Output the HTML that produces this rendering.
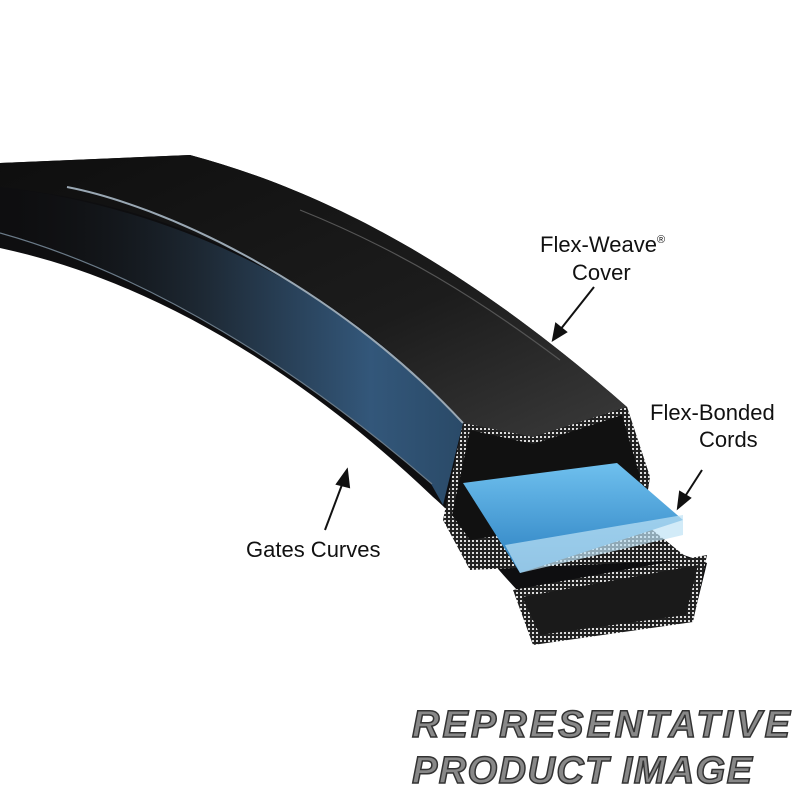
<!DOCTYPE html>
<html><head><style>
html,body{margin:0;padding:0;background:#fff;width:800px;height:800px;overflow:hidden}
</style></head><body>
<svg width="800" height="800" viewBox="0 0 800 800" xmlns="http://www.w3.org/2000/svg">
<defs>
<linearGradient id="side" x1="0" y1="0" x2="1" y2="0">
<stop offset="0" stop-color="#111" stop-opacity="0"/><stop offset="0.45" stop-color="#1e2a36"/><stop offset="0.8" stop-color="#33577a"/><stop offset="1" stop-color="#2a4a68"/>
</linearGradient>
<linearGradient id="top" x1="0" y1="0" x2="1" y2="1">
<stop offset="0" stop-color="#0e0e0e"/><stop offset="0.6" stop-color="#1c1c1c"/><stop offset="1" stop-color="#3a3a3a"/>
</linearGradient>
<linearGradient id="cord" x1="0" y1="0" x2="0" y2="1">
<stop offset="0" stop-color="#6fc0ee"/><stop offset="1" stop-color="#2a7fc0"/>
</linearGradient>
<pattern id="dots" width="4" height="4" patternUnits="userSpaceOnUse"><rect width="4" height="4" fill="#222"/><rect width="2" height="2" fill="#ddd"/></pattern>
</defs>
<!-- belt body -->
<path d="M0,163 L190,155 C320,190 460,260 627,407 L650,477 L640,540 L707,563 L693,620 L533,643 L517,590 C480,550 460,520 433,497 C300,370 150,280 0,248 Z" fill="#0e0e10"/>
<!-- top face -->
<path d="M0,163 L190,155 C320,190 460,260 627,407 L533,437 L463,423 C380,330 230,210 0,187 Z" fill="url(#top)"/>
<!-- side face -->
<path d="M0,187 C230,215 380,330 463,423 L443,505 L430,482 C300,370 150,275 0,233 Z" fill="url(#side)"/>
<path d="M67,187 C160,205 330,280 463,423" stroke="#9aa8b4" stroke-width="2" fill="none"/>
<path d="M0,233 C150,275 300,370 432,484" stroke="#6a7a88" stroke-width="1.2" fill="none"/>
<path d="M300,210 C400,250 480,300 560,360" stroke="#555" stroke-width="1.2" fill="none"/>
<!-- upper section -->
<path d="M463,423 L533,437 L627,407 L650,477 L640,520 L690,560 L470,570 L443,520 Z" fill="url(#dots)"/>
<path d="M470,430 L533,444 L622,415 L640,476 L632,515 L470,540 L452,515 Z" fill="#111"/>
<!-- cords -->
<path d="M463,483 L617,463 L683,520 L520,573 Z" fill="url(#cord)"/>
<path d="M505,545 L683,515 L683,535 L520,573 Z" fill="#bfe3f5" opacity="0.7"/>
<!-- lower section -->
<path d="M513,590 L707,555 L693,622 L533,645 Z" fill="url(#dots)"/>
<path d="M522,597 L698,565 L686,615 L540,635 Z" fill="#1a1a1a"/>
<g font-family="'Liberation Sans',sans-serif" font-size="22" fill="#111">
<text x="540" y="252">Flex-Weave<tspan font-size="11" dy="-9">®</tspan></text>
<text x="572" y="280">Cover</text>
<text x="650" y="420">Flex-Bonded</text>
<text x="699" y="447">Cords</text>
<text x="246" y="557">Gates Curves</text>
</g>
<g stroke="#111" stroke-width="2" fill="#111">
<line x1="594" y1="287" x2="560" y2="330"/><polygon points="553,340 556,324 566,332"/>
<line x1="702" y1="470" x2="684" y2="498"/><polygon points="678,508 680,492 690,498"/>
<line x1="325" y1="530" x2="343" y2="482"/><polygon points="347,470 337,484 349,487"/>
</g>
<g font-family="'Liberation Sans',sans-serif" font-weight="bold" font-style="italic" font-size="38" fill="#888" stroke="#333" stroke-width="1.5">
<text x="412" y="737" textLength="378">REPRESENTATIVE</text>
<text x="412" y="783" textLength="340">PRODUCT IMAGE</text>
</g>
</svg>
</body></html>
